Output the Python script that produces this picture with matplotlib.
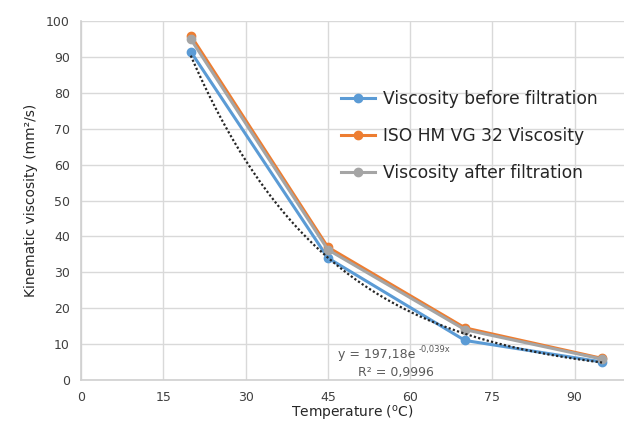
import numpy as np
import matplotlib.pyplot as plt

# ------------------------------------------------------------
# Data
# ------------------------------------------------------------
temperature = [20, 45, 70, 95]
visc_before = [91.5, 34.0, 11.0, 5.0]
visc_iso = [96.0, 37.0, 14.5, 6.0]
visc_after = [95.0, 36.3, 14.0, 5.8]

# exponential trendline shown on chart: y = a * e^(b x)
trend_a = 197.18
trend_b = -0.039

x_ticks = [0, 15, 30, 45, 60, 75, 90]
y_ticks = [0, 10, 20, 30, 40, 50, 60, 70, 80, 90, 100]

BLUE = "#5b9bd5"
ORANGE = "#ed7d31"
GRAY = "#a5a5a5"
TEXT = "#404040"

plt.rcParams["font.family"] = ["DejaVu Sans"]

fig = plt.figure(figsize=(6.24, 4.24), dpi=100)
ax = fig.add_axes([0.13, 0.104, 0.87, 0.846])

# ------------------------------------------------------------
# Series
# ------------------------------------------------------------
ax.plot(temperature, visc_before, color=BLUE, lw=2.2, marker="o", ms=6,
        label="Viscosity before filtration", zorder=3)
ax.plot(temperature, visc_iso, color=ORANGE, lw=2.2, marker="o", ms=6,
        label="ISO HM VG 32 Viscosity", zorder=3)
ax.plot(temperature, visc_after, color=GRAY, lw=2.2, marker="o", ms=6,
        label="Viscosity after filtration", zorder=4)

xt = np.linspace(temperature[0], temperature[-1], 200)
ax.plot(xt, trend_a * np.exp(trend_b * xt), color="#262626", lw=1.6,
        linestyle=(0, (1, 1)), zorder=5)

# ------------------------------------------------------------
# Axes styling
# ------------------------------------------------------------
ax.set_xlim(0, 99)
ax.set_ylim(0, 100)
ax.set_xticks(x_ticks)
ax.set_yticks(y_ticks)
ax.grid(True, color="#d9d9d9", lw=1)
ax.set_axisbelow(True)
for s in ["top", "right"]:
    ax.spines[s].set_visible(False)
for s in ["left", "bottom"]:
    ax.spines[s].set_color("#d0d0d0")
    ax.spines[s].set_linewidth(1.2)
ax.tick_params(length=0, labelsize=9, colors=TEXT, pad=8)

ax.set_xlabel(r"Temperature ($^{\rm o}$C)", fontsize=10, color="#262626",
              labelpad=0)
ax.set_ylabel("Kinematic viscosity (mm²/s)", fontsize=10, color="#262626",
              family=["Liberation Sans Narrow", "DejaVu Sans"], labelpad=6)

leg = ax.legend(loc="upper left", bbox_to_anchor=(0.45, 0.85), frameon=False,
                fontsize=12.3, handlelength=2.0, labelspacing=1.1,
                handletextpad=0.5, labelcolor="#262626")

# trendline equation
ax.text(0.473, 0.07, "y = 197,18e", transform=ax.transAxes, fontsize=9,
        color="#595959", va="center")
ax.text(0.622, 0.085, "-0,039x", transform=ax.transAxes, fontsize=6,
        color="#595959", va="center")
ax.text(0.51, 0.022, "R² = 0,9996", transform=ax.transAxes, fontsize=9,
        color="#595959", va="center")

fig.savefig("out.png", dpi=100)
